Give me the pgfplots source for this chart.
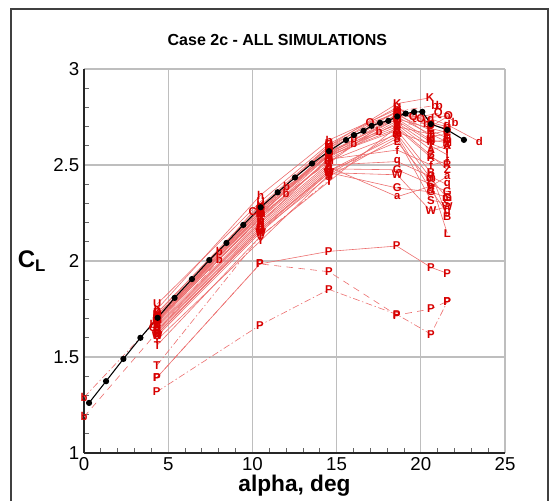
\documentclass[border=0pt]{standalone}
\usepackage{fontspec}
\setmainfont{Liberation Sans}
\usepackage{pgfplots}
\pgfplotsset{compat=1.18}
\definecolor{simred}{RGB}{215,0,0}
\definecolor{simline}{RGB}{236,110,110}
\definecolor{gridgray}{RGB}{190,190,190}
\pgfplotsset{
  sim/.style={simline, line width=0.45pt, mark=text, text mark={#1}, text mark as node=true,
    text mark style={font=\bfseries\fontsize{8.5}{8.5}\selectfont, text=simred, inner sep=0pt},
    mark options={solid}},
  dsh/.style={dash pattern=on 5pt off 4pt},
  dsd/.style={dash pattern=on 5pt off 2pt on 1pt off 2pt},
}
\begin{document}
\begin{tikzpicture}
\useasboundingbox (0,0) rectangle (419.25pt,375.75pt);
\draw[black!75, line width=0.8pt] (8.25pt,0pt) -- (8.25pt,369pt) -- (411pt,369pt) -- (411pt,0pt);
\node[font=\bfseries\fontsize{12}{12}\selectfont] at (208pt,345.75pt) {Case 2c - ALL SIMULATIONS};
\begin{axis}[
  at={(63pt,36pt)}, anchor=south west,
  scale only axis, width=315.75pt, height=288pt,
  xmin=0, xmax=25, ymin=1, ymax=3,
  xtick={0,5,...,25}, ytick={1,1.5,2,2.5,3},
  minor x tick num=4, minor y tick num=4,
  axis x line*=bottom, axis y line*=left,
  axis line style={-, black!85, line width=0.9pt},
  grid=major, major grid style={gridgray, line width=0.9pt},
  tick align=inside, major tick length=0pt, minor tick length=3.5pt,
  minor tick style={black!60, line width=0.6pt},
  /pgf/number format/assume math mode=true,
  ticklabel style={font=\fontsize{14}{14}\selectfont},
  xlabel={alpha, deg},
  xlabel style={font=\bfseries\fontsize{17}{17}\selectfont, at={(axis description cs:0.5,-0.086)}, anchor=center},
  ylabel={C\textsubscript{L}},
  ylabel style={font=\bfseries\fontsize{18}{18}\selectfont, rotate=-90, at={(axis description cs:-0.1235,0.5)}, anchor=center},
]
% simulations (6 common angles)
\addplot[sim=K] coordinates {(4.35,1.73) (10.49,2.29) (14.55,2.60) (18.6,2.82) (20.55,2.85)};
\addplot[sim=U] coordinates {(4.35,1.776) (10.49,2.31) (14.55,2.61) (18.6,2.80) (20.6,2.71) (21.57,2.69)};
\addplot[sim=h] coordinates {(4.35,1.75) (10.49,2.344) (14.55,2.63) (18.6,2.79) (20.6,2.72) (21.57,2.70)};
\addplot[sim=T] coordinates {(4.35,1.562) (10.49,2.13) (14.55,2.414) (18.6,2.70) (20.6,2.66) (21.57,2.62)};
\addplot[sim=Y] coordinates {(4.35,1.59) (10.49,2.106) (14.55,2.45) (18.6,2.67) (20.6,2.61) (21.57,2.58)};
\addplot[sim=S] coordinates {(4.35,1.62) (10.49,2.16) (14.55,2.44) (18.6,2.64) (20.6,2.317) (21.57,2.30)};
\addplot[sim=W] coordinates {(4.35,1.61) (10.49,2.15) (14.55,2.46) (18.6,2.449) (20.6,2.26) (21.57,2.283)};
\addplot[sim=G] coordinates {(4.35,1.64) (10.49,2.18) (14.55,2.48) (18.6,2.475) (20.6,2.40) (21.57,2.36)};
\addplot[sim=a] coordinates {(4.35,1.65) (10.49,2.19) (14.55,2.49) (18.6,2.335) (20.6,2.39) (21.57,2.44)};
\addplot[sim=f] coordinates {(4.35,1.68) (10.49,2.23) (14.55,2.53) (18.6,2.578) (20.6,2.50) (21.57,2.52)};
\addplot[sim=q] coordinates {(4.35,1.66) (10.49,2.20) (14.55,2.50) (18.6,2.518) (20.6,2.44) (21.57,2.397)};
\addplot[sim=L] coordinates {(4.35,1.64) (10.49,2.17) (14.55,2.47) (18.6,2.62) (20.6,2.41) (21.57,2.145)};
\addplot[sim=m] coordinates {(4.35,1.69) (10.49,2.24) (14.55,2.52) (18.6,2.66) (20.6,2.43) (21.57,2.327)};
\addplot[sim=g] coordinates {(4.35,1.63) (10.49,2.16) (14.55,2.47) (18.6,2.65) (20.6,2.37) (21.57,2.25)};
\addplot[sim=B] coordinates {(4.35,1.70) (10.49,2.25) (14.55,2.55) (18.6,2.68) (20.6,2.46) (21.57,2.23)};
\addplot[sim=Z] coordinates {(4.35,1.71) (10.49,2.26) (14.55,2.56) (18.6,2.70) (20.6,2.55) (21.57,2.475)};
\addplot[sim=l] coordinates {(4.35,1.69) (10.49,2.22) (14.55,2.53) (18.6,2.72) (20.6,2.60) (21.57,2.553)};
\addplot[sim=M] coordinates {(4.35,1.72) (10.49,2.27) (14.55,2.57) (18.6,2.74) (20.6,2.63) (21.57,2.616)};
\addplot[sim=E] coordinates {(4.35,1.73) (10.49,2.28) (14.55,2.59) (18.6,2.76) (20.6,2.68) (21.57,2.64)};
\addplot[sim=A] coordinates {(4.35,1.70) (10.49,2.26) (14.55,2.57) (18.6,2.71) (20.6,2.58) (21.57,2.60)};
\addplot[sim=I] coordinates {(4.35,1.67) (10.49,2.21) (14.55,2.51) (18.6,2.77) (20.6,2.65) (21.57,2.66)};
\addplot[sim=N] coordinates {(4.35,1.66) (10.49,2.20) (14.55,2.54) (18.6,2.73) (20.6,2.62) (21.57,2.63)};
\addplot[sim=o] coordinates {(4.35,1.71) (10.49,2.24) (14.55,2.58) (18.6,2.78) (20.6,2.70) (21.57,2.752)};
\addplot[sim=G] coordinates {(4.35,1.62) (10.49,2.17) (14.55,2.46) (18.6,2.38) (20.6,2.36) (21.57,2.33)};
\addplot[sim=R] coordinates {(4.35,1.68) (10.49,2.23) (14.55,2.55) (18.6,2.69) (20.6,2.54) (21.57,2.50)};
\addplot[sim=D] coordinates {(4.35,1.69) (10.49,2.25) (14.55,2.56) (18.6,2.75) (20.6,2.66) (21.57,2.68)};
% series with other angles
\addplot[sim=C] coordinates {(4.1,1.655) (10.02,2.257) (14.55,2.55) (18.6,2.74) (20.6,2.69) (21.57,2.67)};
\addplot[sim=O] coordinates {(4.35,1.71) (10.49,2.28) (14.55,2.59) (16.98,2.72) (18.6,2.77) (20.0,2.744) (21.64,2.756)};
\addplot[sim=Q] coordinates {(4.35,1.70) (10.49,2.27) (14.55,2.60) (18.6,2.78) (19.55,2.744) (21.04,2.77)};
\addplot[sim=b, dsd] coordinates {(0,1.29) (4.1,1.67) (8.03,2.05) (12.03,2.388) (16.03,2.64) (18.6,2.78) (20.84,2.81) (22.04,2.72)};
\addplot[sim=b, dsh] coordinates {(0,1.188) (4.35,1.63) (8.03,2.01) (12.0,2.35) (16.03,2.61) (17.53,2.675) (18.6,2.71) (20.35,2.718) (21.1,2.81)};
\addplot[sim=d] coordinates {(4.35,1.69) (10.49,2.25) (14.55,2.56) (18.6,2.76) (20.6,2.74) (21.57,2.71) (23.47,2.622)};
\addplot[sim=P] coordinates {(4.33,1.393) (10.45,1.985) (14.53,2.05) (18.57,2.078) (20.6,1.967) (21.57,1.936)};
\addplot[sim=P, dsh] coordinates {(4.33,1.393) (10.45,1.985) (14.55,1.944) (18.57,1.718) (20.6,1.75) (21.57,1.79)};
\addplot[sim=P, dsd] coordinates {(4.31,1.318) (10.45,1.666) (14.55,1.852) (18.57,1.722) (20.6,1.619) (21.57,1.788)};
\addplot[sim=T, dsd] coordinates {(4.33,1.457) (10.49,2.13) (14.55,2.42)};
% experiment
\addplot[black, line width=0.8pt, mark=*, mark size=1.9pt] coordinates {
(0.30,1.261) (1.31,1.374) (2.34,1.49) (3.35,1.60) (4.37,1.704) (5.38,1.808) (6.41,1.906)
(7.44,2.005) (8.46,2.094) (9.46,2.188) (10.49,2.28) (11.5,2.358) (12.53,2.435) (13.54,2.508)
(14.55,2.572) (15.56,2.63) (16.03,2.656) (16.6,2.678) (17.08,2.704) (17.58,2.72) (18.07,2.73)
(18.6,2.753) (19.1,2.768) (19.6,2.776) (20.09,2.777) (20.6,2.713) (21.57,2.683) (22.56,2.631)};
\end{axis}
\end{tikzpicture}
\end{document}
